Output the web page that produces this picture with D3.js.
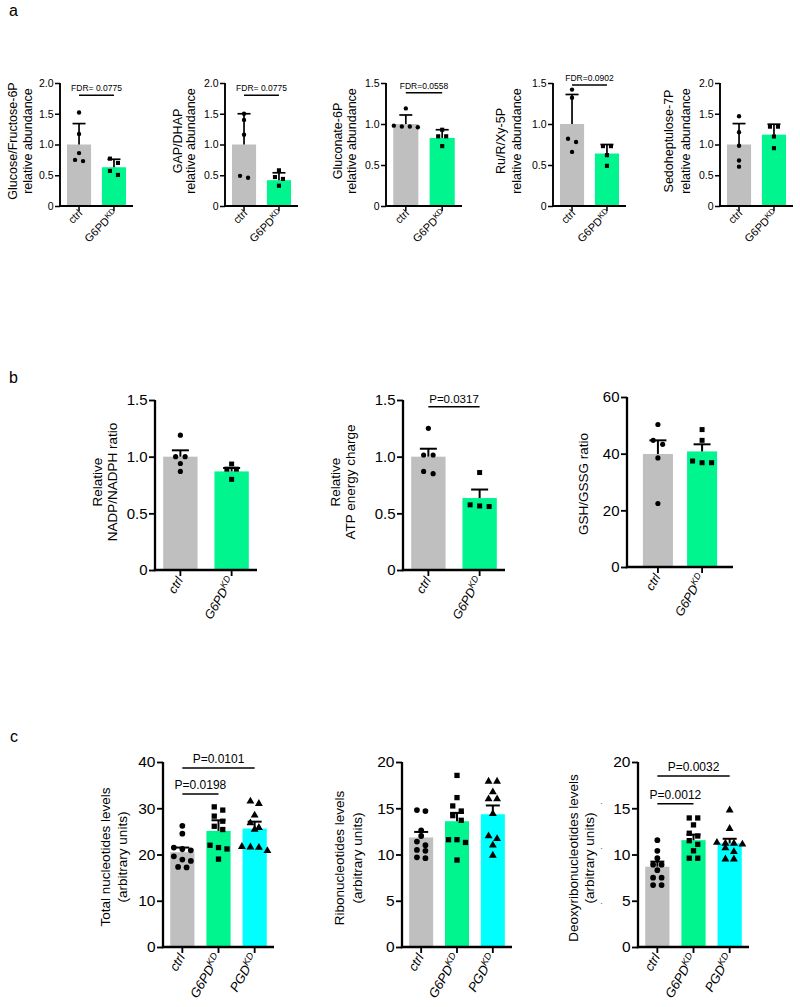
<!DOCTYPE html>
<html><head><meta charset="utf-8">
<script src="https://cdn.jsdelivr.net/npm/d3@7"></script>
<style>
body{margin:0;background:#fff}
svg{display:block}
text{font-family:"Liberation Sans",Arial,Helvetica,sans-serif;fill:#000}
</style>
</head><body>
<svg id="chart" width="800" height="1007"></svg>
<script>
// ---------------- DATA ----------------
const groups2 = ["ctrl", "G6PD"];
const groups3 = ["ctrl", "G6PD", "PGD"];
const groupNames = {ctrl: ["ctrl", ""], G6PD: ["G6PD", "KD"], PGD: ["PGD", "KD"]};

const ticksA20 = [0, 0.5, 1.0, 1.5, 2.0];
const ticksA15 = [0, 0.5, 1.0, 1.5];
const tickLabelsA20 = ["0", "0.5", "1.0", "1.5", "2.0"];
const tickLabelsA15 = ["0", "0.5", "1.0", "1.5"];
const ticks60 = [0, 20, 40, 60];
const ticks40 = [0, 10, 20, 30, 40];
const ticks20 = [0, 5, 10, 15, 20];

// panel a (mean, SD)
const a1Mean = [1.00, 0.63], a1Err = [0.34, 0.13];
const a1Ctrl = [1.52, 1.17, 0.86, 0.73, 0.75], a1G6PD = [0.77, 0.70, 0.505, 0.57];
const a2Mean = [1.00, 0.42], a2Err = [0.50, 0.12];
const a2Ctrl = [1.50, 1.40, 1.16, 0.46, 0.49], a2G6PD = [0.58, 0.47, 0.44, 0.33];
const a3Mean = [1.00, 0.83], a3Err = [0.11, 0.10];
const a3Ctrl = [1.19, 0.98, 0.97, 0.97, 0.96], a3G6PD = [0.93, 0.85, 0.85, 0.73];
const a4Mean = [1.00, 0.64], a4Err = [0.36, 0.11];
const a4Ctrl = [1.42, 1.32, 0.82, 0.78, 0.66], a4G6PD = [0.73, 0.73, 0.62, 0.49];
const a5Mean = [1.00, 1.16], a5Err = [0.34, 0.17];
const a5Ctrl = [1.46, 1.20, 0.98, 0.74, 0.64], a5G6PD = [1.29, 1.29, 1.13, 0.94];

// panel b (mean, SEM)
const b1Mean = [1.00, 0.87], b1Err = [0.056, 0.03];
const b1Ctrl = [1.19, 1.00, 1.00, 0.94, 0.87], b1G6PD = [0.935, 0.89, 0.89, 0.80];
const b2Mean = [1.00, 0.635], b2Err = [0.07, 0.075];
const b2Ctrl = [1.25, 1.015, 1.015, 0.87, 0.85], b2G6PD = [0.86, 0.575, 0.56, 0.565];
const b3Mean = [39.9, 40.8], b3Err = [4.8, 2.5];
const b3Ctrl = [50.3, 44.7, 43.3, 38.5, 22.4], b3G6PD = [48.5, 44.7, 37.4, 36.8, 36.8];

// panel c (mean, SEM)
const c1Mean = [20.5, 25.1, 25.6], c1Err = [1.0, 2.3, 1.5];
const c1Ctrl = [26.2, 24.5, 21.5, 21.2, 20.9, 19.6, 18.9, 18.6, 17.3, 17.2];
const c1G6PD = [30.3, 29.6, 28.3, 27.2, 26.1, 25.4, 22.0, 21.5, 21.2, 19.0];
const c1PGD = [31.5, 31.0, 28.5, 26.8, 25.8, 25.4, 21.7, 21.6, 21.5, 20.8];
const c2Mean = [11.84, 13.6, 14.35], c2Err = [0.6, 0.9, 0.95];
const c2Ctrl = [14.8, 14.7, 12.6, 12.0, 11.4, 11.0, 10.5, 10.4, 9.7, 9.6];
const c2G6PD = [18.55, 16.15, 15.25, 14.7, 14.2, 13.7, 11.6, 11.6, 11.3, 9.4];
const c2PGD = [17.9, 17.9, 16.75, 16.0, 16.0, 14.4, 12.0, 11.7, 11.0, 9.9];
const c3Mean = [8.68, 11.55, 11.2], c3Err = [0.55, 0.6, 0.5];
const c3Ctrl = [11.55, 10.4, 9.6, 8.9, 8.9, 8.3, 7.5, 7.5, 6.7, 6.7];
const c3G6PD = [13.95, 13.95, 13.2, 12.3, 12.0, 11.5, 11.1, 10.4, 9.6, 9.6];
const c3PGD = [14.8, 12.8, 11.3, 11.2, 11.2, 11.1, 10.7, 10.3, 9.5, 9.5];

// statistics annotations
const statA1 = [{from: 0, to: 1, y: 1.80, text: "FDR= 0.0775"}];
const statA2 = [{from: 0, to: 1, y: 1.80, text: "FDR= 0.0775"}];
const statA3 = [{from: 0, to: 1, y: 1.38, text: "FDR=0.0558"}];
const statA4 = [{from: 0, to: 1, y: 1.475, text: "FDR=0.0902"}];
const statB2 = [{from: 0, to: 1, y: 1.44, text: "P=0.0317"}];
const statC1 = [{from: 0, to: 2, y: 38.7, text: "P=0.0101"}, {from: 0, to: 1, y: 33.1, text: "P=0.0198"}];
const statC3 = [{from: 0, to: 2, y: 18.5, text: "P=0.0032"}, {from: 0, to: 1, y: 15.5, text: "P=0.0012"}];

// ---------------- STYLE ----------------
const colors = {ctrl: "#bfbfbf", G6PD: "#00f58f", PGD: "#00ffff"};
const shapes = {ctrl: d3.symbolCircle, G6PD: d3.symbolSquare, PGD: d3.symbolTriangle};

const styleA = {tickFont: 10.5, labFont: 12.5, xFont: 11, xRot: -45, italic: false, statFont: 8.5,
  axisW: 1.9, tickLen: 5, cap: 13, errW: 1.7, sym: {ctrl: 15, G6PD: 17, PGD: 17}, diam: 4.4, spacing: 8,
  pin: 0.31, pout: 0.2, labGap: 15, statGap: 4, xOff: [4, 8]};
const styleB = {tickFont: 15, labFont: 13.5, xFont: 12.5, xRot: -60, italic: true, statFont: 11.5,
  axisW: 2.3, tickLen: 6, cap: 17, errW: 2, sym: {ctrl: 21, G6PD: 25, PGD: 25}, diam: 5, spacing: 9.5,
  pin: 0.33, pout: 0.16, labGap: 15.5, statGap: 4, xOff: [3, 10]};
const styleC = {tickFont: 15.5, labFont: 13.5, xFont: 13, xRot: -60, italic: true, statFont: 12,
  axisW: 2.3, tickLen: 6, cap: 14, errW: 2, sym: {ctrl: 26, G6PD: 28, PGD: 27}, diam: 5.4, spacing: 8.5,
  pin: 0.33, pout: 0.2, labGap: 17, statGap: 5, xOff: [3, 10]};

const svg = d3.select("#chart");

// panel letters
svg.append("text").attr("x", 9).attr("y", 16).attr("font-size", 16).text("a");
svg.append("text").attr("x", 9).attr("y", 383).attr("font-size", 16).text("b");
svg.append("text").attr("x", 10).attr("y", 742).attr("font-size", 16).text("c");

function beeswarm(values, yScale, diam, spacing) {
  const pts = values.map(v => ({v, py: yScale(v)})).sort((a, b) => a.py - b.py);
  const rows = [];
  pts.forEach(p => {
    const last = rows[rows.length - 1];
    if (last && p.py - last[0].py < diam) last.push(p); else rows.push([p]);
  });
  rows.forEach(r => r.forEach((p, j) => p.dx = (j - (r.length - 1) / 2) * spacing));
  return pts;
}

function drawChart(cfg) {
  const s = cfg.style;
  const g = svg.append("g");
  const x = d3.scaleBand().domain(cfg.groups).range([cfg.x0, cfg.x1])
    .paddingInner(cfg.pin != null ? cfg.pin : s.pin).paddingOuter(cfg.pout != null ? cfg.pout : s.pout);
  const y = d3.scaleLinear().domain([0, cfg.ticks[cfg.ticks.length - 1]]).range([cfg.yBase, cfg.yTop]);
  const data = cfg.groups.map((k, i) => ({k, m: cfg.means[i], e: cfg.errs[i], pts: cfg.points[i]}));

  // bars
  g.selectAll("rect.bar").data(data).join("rect").attr("class", "bar")
    .attr("x", d => x(d.k)).attr("width", x.bandwidth())
    .attr("y", d => y(d.m)).attr("height", d => y(0) - y(d.m))
    .attr("fill", d => colors[d.k]);

  // error bars (upper)
  const cx = d => x(d.k) + x.bandwidth() / 2;
  g.selectAll("line.err").data(data).join("line").attr("class", "err")
    .attr("x1", cx).attr("x2", cx).attr("y1", d => y(d.m)).attr("y2", d => y(d.m + d.e))
    .attr("stroke", "#000").attr("stroke-width", s.errW);
  g.selectAll("line.cap").data(data).join("line").attr("class", "cap")
    .attr("x1", d => cx(d) - s.cap / 2).attr("x2", d => cx(d) + s.cap / 2)
    .attr("y1", d => y(d.m + d.e)).attr("y2", d => y(d.m + d.e))
    .attr("stroke", "#000").attr("stroke-width", s.errW);

  // points
  data.forEach(d => {
    const sw = beeswarm(d.pts, y, s.diam, s.spacing);
    g.append("g").selectAll("path").data(sw).join("path")
      .attr("d", d3.symbol().type(shapes[d.k]).size(s.sym[d.k]))
      .attr("transform", p => `translate(${cx(d) + p.dx},${p.py})`)
      .attr("fill", "#000");
  });

  // y axis
  const fmt = cfg.tickLabels ? (v, i) => cfg.tickLabels[i] : d3.format("d");
  const yAx = g.append("g").attr("transform", `translate(${cfg.x0},0)`)
    .call(d3.axisLeft(y).tickValues(cfg.ticks).tickFormat(fmt).tickSize(s.tickLen).tickSizeOuter(0).tickPadding(1.5));
  yAx.select(".domain").attr("stroke-width", s.axisW).attr("d", `M0,${cfg.yBase + s.axisW / 2}V${cfg.yTop}`);
  yAx.selectAll(".tick line").attr("stroke-width", s.axisW * 0.8);
  yAx.selectAll(".tick text").attr("font-size", s.tickFont).attr("font-family", null).style("fill", "#000");
  yAx.attr("font-family", null);

  // x axis
  const xAx = g.append("g").attr("transform", `translate(0,${cfg.yBase})`)
    .call(d3.axisBottom(x).tickSize(s.tickLen).tickSizeOuter(0).tickFormat(""));
  xAx.select(".domain").attr("stroke-width", s.axisW).attr("d", `M${cfg.x0 - s.axisW / 2},0H${cfg.x1}`);
  xAx.selectAll(".tick line").attr("stroke-width", s.axisW * 0.8);

  // x labels
  data.forEach(d => {
    const t = g.append("text")
      .attr("transform", `translate(${cx(d) + s.xOff[0]},${cfg.yBase + s.xOff[1]}) rotate(${s.xRot})`)
      .attr("text-anchor", "end").attr("font-size", s.xFont)
      .attr("font-style", s.italic ? "italic" : null);
    const nm = groupNames[d.k];
    t.append("tspan").text(nm[0]);
    if (nm[1]) t.append("tspan").attr("dy", "-0.45em").attr("font-size", "0.72em").text(nm[1]);
  });

  // y label
  const ymid = cfg.labMid;
  cfg.ylab.forEach((line, i) => {
    const bx = cfg.x0 + cfg.labX[i] + s.labFont * 0.36;
    g.append("text").attr("transform", `translate(${bx},${ymid}) rotate(-90)`)
      .attr("text-anchor", "middle").attr("font-size", s.labFont).text(line);
  });

  // stats
  (cfg.stats || []).forEach(st => {
    const xa = cx(data[st.from]), xb = cx(data[st.to]);
    g.append("line").attr("x1", xa).attr("x2", xb).attr("y1", y(st.y)).attr("y2", y(st.y))
      .attr("stroke", "#000").attr("stroke-width", 1.5);
    g.append("text").attr("x", (xa + xb) / 2).attr("y", y(st.y) - s.statGap)
      .attr("text-anchor", "middle").attr("font-size", s.statFont).text(st.text);
  });
  return {x, y};
}

// ---------------- PANEL A ----------------
const aBase = 206, aTop = 83;
drawChart({style: styleA, groups: groups2, x0: 60, x1: 133, yBase: aBase, yTop: aTop, ticks: ticksA20, tickLabels: tickLabelsA20,
  means: a1Mean, errs: a1Err, points: [a1Ctrl, a1G6PD], ylab: ["Glucose/Fructose-6P", "relative abundance"], labX: [-48, -33], labMid: 141, stats: statA1});
drawChart({style: styleA, groups: groups2, x0: 225, x1: 298, yBase: aBase, yTop: aTop, ticks: ticksA20, tickLabels: tickLabelsA20,
  means: a2Mean, errs: a2Err, points: [a2Ctrl, a2G6PD], ylab: ["GAP/DHAP", "relative abundance"], labX: [-48, -35], labMid: 141, stats: statA2});
drawChart({style: styleA, groups: groups2, x0: 386, x1: 462, yBase: aBase, yTop: aTop, ticks: ticksA15, tickLabels: tickLabelsA15,
  means: a3Mean, errs: a3Err, points: [a3Ctrl, a3G6PD], ylab: ["Gluconate-6P", "relative abundance"], labX: [-49, -35], labMid: 141, stats: statA3});
drawChart({style: styleA, groups: groups2, x0: 553, x1: 626, yBase: aBase, yTop: aTop, ticks: ticksA15, tickLabels: tickLabelsA15,
  means: a4Mean, errs: a4Err, points: [a4Ctrl, a4G6PD], ylab: ["Ru/R/Xy-5P", "relative abundance"], labX: [-53, -37], labMid: 141, stats: statA4});
drawChart({style: styleA, groups: groups2, x0: 720, x1: 793, yBase: aBase, yTop: aTop, ticks: ticksA20, tickLabels: tickLabelsA20,
  means: a5Mean, errs: a5Err, points: [a5Ctrl, a5G6PD], ylab: ["Sedoheptulose-7P", "relative abundance"], labX: [-52, -35], labMid: 141});

// ---------------- PANEL B ----------------
drawChart({style: styleB, groups: groups2, x0: 155, x1: 257, yBase: 570, yTop: 400, ticks: ticksA15, tickLabels: tickLabelsA15,
  means: b1Mean, errs: b1Err, points: [b1Ctrl, b1G6PD], ylab: ["Relative", "NADP/NADPH ratio"], labX: [-58, -43], labMid: 482});
drawChart({style: styleB, groups: groups2, x0: 403, x1: 505, yBase: 570, yTop: 400, ticks: ticksA15, tickLabels: tickLabelsA15,
  means: b2Mean, errs: b2Err, points: [b2Ctrl, b2G6PD], ylab: ["Relative", "ATP energy charge"], labX: [-68, -53], labMid: 482, stats: statB2});
drawChart({style: styleB, groups: groups2, x0: 627, x1: 733, yBase: 567, yTop: 397, ticks: ticks60, pin: 0.32, pout: 0.36,
  means: b3Mean, errs: b3Err, points: [b3Ctrl, b3G6PD], ylab: ["GSH/GSSG ratio"], labX: [-44], labMid: 484});

// ---------------- PANEL C ----------------
drawChart({style: styleC, groups: groups3, x0: 163, x1: 274, yBase: 947, yTop: 762, ticks: ticks40,
  means: c1Mean, errs: c1Err, points: [c1Ctrl, c1G6PD, c1PGD], ylab: ["Total nucleotides levels", "(arbitrary units)"], labX: [-58, -41], labMid: 857, stats: statC1});
drawChart({style: styleC, groups: groups3, x0: 402, x1: 512, yBase: 947, yTop: 762, ticks: ticks20,
  means: c2Mean, errs: c2Err, points: [c2Ctrl, c2G6PD, c2PGD], ylab: ["Ribonucleotides levels", "(arbitrary units)"], labX: [-63, -45], labMid: 858});
drawChart({style: styleC, groups: groups3, x0: 638, x1: 749, yBase: 947, yTop: 762, ticks: ticks20,
  means: c3Mean, errs: c3Err, points: [c3Ctrl, c3G6PD, c3PGD], ylab: ["Deoxyribonucleotides levels", "(arbitrary units)"], labX: [-65, -49], labMid: 858, stats: statC3});

// small stray marks next to the c3 label
[803, 848, 903].forEach(yy => svg.append("text").attr("x", 600).attr("y", yy).attr("font-size", 8).attr("fill", "#444").text("ˏ"));
</script>
</body></html>
